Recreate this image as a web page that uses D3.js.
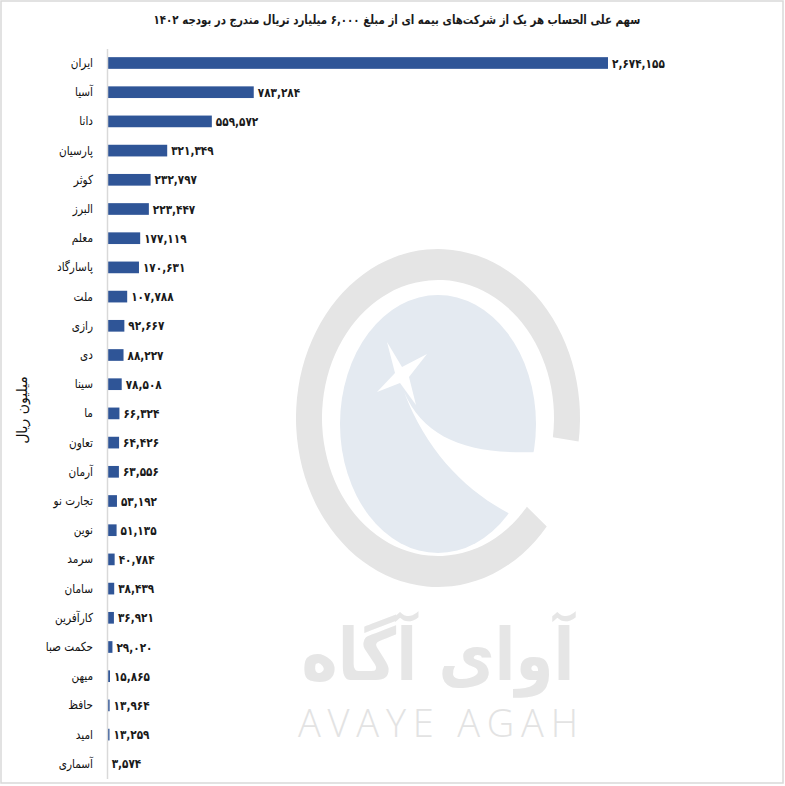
<!DOCTYPE html>
<html>
<head>
<meta charset="utf-8">
<script src="https://cdn.jsdelivr.net/npm/d3@7"></script>
<style>
  html, body { margin: 0; padding: 0; background: #fff; }
  svg { display: block; }
  text { font-family: "DejaVu Sans", "Noto Sans", sans-serif; }
</style>
</head>
<body>
<svg id="chart" width="785" height="786"></svg>
<script>
// ---- data ----
const categories = ["ایران","آسیا","دانا","پارسیان","کوثر","البرز","معلم","پاسارگاد","ملت","رازی","دی","سینا","ما","تعاون","آرمان","تجارت نو","نوین","سرمد","سامان","کارآفرین","حکمت صبا","میهن","حافظ","امید","آسماری"];
const values = [2674155,783284,559572,321349,232797,223447,177119,170631,107788,92667,88227,78508,66324,64426,63556,53192,51135,40784,38439,36921,29020,15865,13964,13259,3574];
const titleText = "سهم علی الحساب هر یک از شرکت‌های بیمه ای از مبلغ ۶,۰۰۰ میلیارد تریال مندرج در بودجه ۱۴۰۲";
const yTitle = "میلیون ریال";
const watermarkFa = "آوای آگاه";
const watermarkEn = "AVAYE AGAH";

const data = categories.map((c, i) => ({ name: c, value: values[i] }));

const svg = d3.select("#chart");
const W = 785, H = 786;

// frame
svg.append("rect").attr("x", 1).attr("y", 1).attr("width", W - 3).attr("height", H - 4)
  .attr("fill", "#fff").attr("stroke", "#d9d9d9").attr("stroke-width", 1.5);

// ---- watermark ----
const wm = svg.append("g").attr("class", "watermark");
const ring = wm.append("g").attr("transform", "translate(438,418) scale(1,1.19)");
ring.append("path")
  .attr("d", d3.arc()({ innerRadius: 116, outerRadius: 142, startAngle: 130 * Math.PI / 180, endAngle: 458 * Math.PI / 180 }))
  .attr("fill", "#e5e5e5");
wm.append("ellipse").attr("cx", 438).attr("cy", 424).attr("rx", 98).attr("ry", 129).attr("fill", "#e4eaf1");
wm.append("path")
  .attr("d", "M404,392 C425,440 470,455 540,452 L540,468 L518,518 C470,495 428,455 404,392 Z")
  .attr("fill", "#fff");
wm.append("path")
  .attr("d", "M387,342 L402,367 L427,354 L409,377 L416,405 L400,383 L377,392 L395,373 Z")
  .attr("fill", "#fff");
wm.append("text").attr("transform", "translate(438,680) scale(0.85,1)").attr("text-anchor", "middle")
  .attr("font-size", 72).attr("font-weight", "bold").attr("fill", "#e6e6e6")
  .attr("direction", "rtl")
  .text(watermarkFa);
wm.append("text").attr("x", 298).attr("y", 737)
  .attr("textLength", 280).attr("lengthAdjust", "spacing")
  .style("font-family", "'Open Sans', Lato, sans-serif")
  .attr("font-size", 38).attr("font-weight", 300).attr("fill", "#e3e3e3")
  .text(watermarkEn);

// ---- scales ----
const x = d3.scaleLinear().domain([0, d3.max(values)]).range([107, 608]);
const y = d3.scaleBand().domain(categories).range([48.4, 778.4]).paddingInner(0.6).paddingOuter(0.3);

const faDigits = "۰۱۲۳۴۵۶۷۸۹";
const toFa = s => s.replace(/[0-9]/g, d => faDigits[+d]);
const fmt = d3.format(",");

// bars
svg.append("g").selectAll("rect").data(data).join("rect")
  .attr("x", x(0))
  .attr("y", d => y(d.name))
  .attr("width", d => x(d.value) - x(0))
  .attr("height", y.bandwidth())
  .attr("fill", "#2f5597");

// value labels
svg.append("g").selectAll("text").data(data).join("text")
  .attr("transform", d => `translate(${x(d.value) + 4},${y(d.name) + y.bandwidth() / 2}) scale(0.84,1)`)
  .attr("dy", "0.36em")
  .attr("font-size", 12.5).attr("font-weight", "bold").attr("fill", "#1a1a1a")
  .text(d => toFa(fmt(d.value)));

// y axis
const yAxis = d3.axisLeft(y).tickSize(0).tickPadding(14);
const ga = svg.append("g").attr("transform", "translate(107,0)").call(yAxis);
ga.select(".domain").attr("stroke", "#d9d9d9").attr("stroke-width", 1.5);
ga.selectAll(".tick text")
  .attr("x", 0)
  .attr("transform", "translate(-14,0) scale(0.84,1)")
  .attr("font-size", 12.5).attr("fill", "#111")
  .style("font-family", "'DejaVu Sans', sans-serif");

// axis title
svg.append("text")
  .attr("transform", "translate(27,410) rotate(-90)")
  .attr("text-anchor", "middle").attr("direction", "rtl")
  .attr("font-size", 14).attr("fill", "#111")
  .text(yTitle);

// chart title
svg.append("text")
  .attr("transform", "translate(397,24) scale(0.82,1)")
  .attr("text-anchor", "middle").attr("direction", "rtl")
  .attr("font-size", 12.5).attr("font-weight", "bold").attr("fill", "#1a1a1a")
  .text(titleText);
</script>
</body>
</html>
